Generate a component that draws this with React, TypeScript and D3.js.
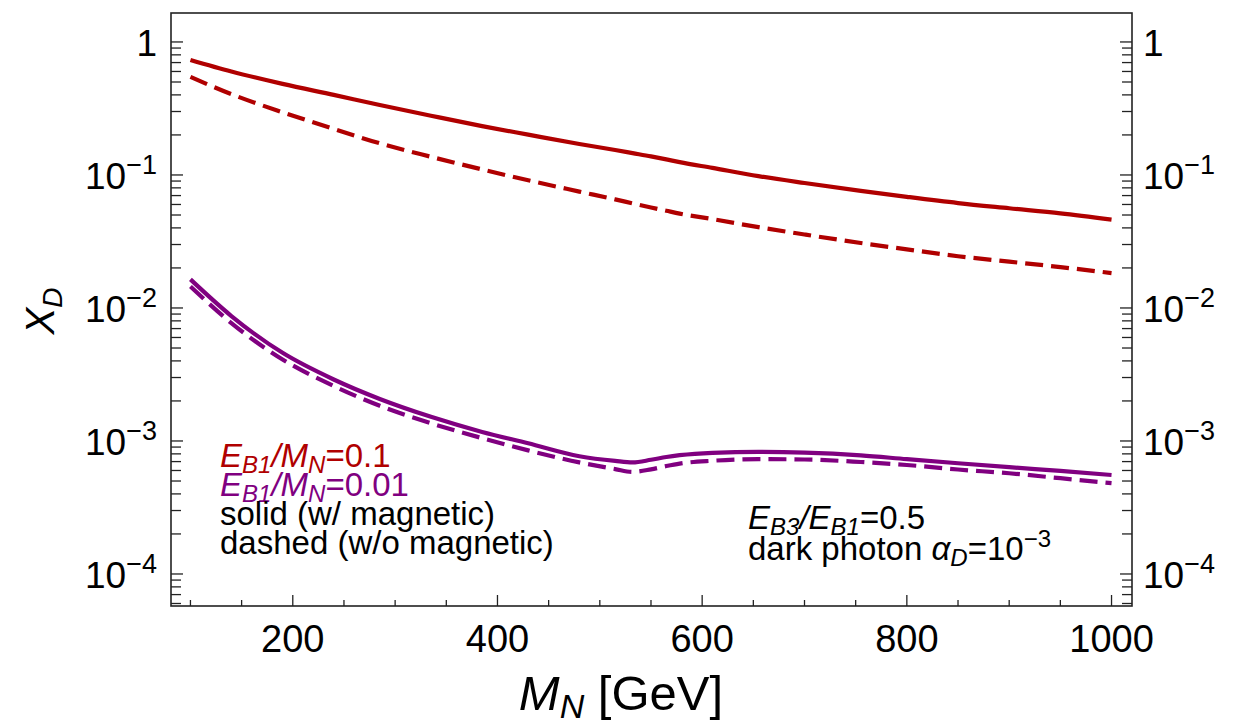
import React from "react";
import * as d3 from "d3";

const MASS = [100, 140, 190, 240, 285, 335, 385, 430, 480, 515, 532, 550, 565, 578, 610, 655, 700, 755, 800, 850, 900, 950, 1000];
const RED_SOLID = [0.733, 0.6, 0.484, 0.4, 0.336, 0.279, 0.233, 0.201, 0.171, 0.154, 0.146, 0.138, 0.131, 0.125, 0.113, 0.098, 0.087, 0.076, 0.0685, 0.0615, 0.0562, 0.0515, 0.0462];
const RED_DASHED = [0.546, 0.405, 0.296, 0.222, 0.173, 0.137, 0.11, 0.0912, 0.075, 0.0655, 0.0612, 0.057, 0.0538, 0.0512, 0.0466, 0.0405, 0.0357, 0.0308, 0.0276, 0.0245, 0.0223, 0.0203, 0.0183];
const PURPLE_SOLID = [0.0164, 0.0087, 0.0046, 0.0029, 0.00207, 0.00152, 0.00117, 0.00096, 0.000768, 0.000708, 0.00069, 0.000722, 0.000758, 0.000782, 0.000815, 0.000828, 0.000818, 0.00078, 0.00073, 0.00068, 0.000635, 0.000595, 0.000555];
const PURPLE_DASHED = [0.0145, 0.0077, 0.0041, 0.00259, 0.00184, 0.00136, 0.00105, 0.00085, 0.00069, 0.000615, 0.000585, 0.000612, 0.000648, 0.000676, 0.00071, 0.00073, 0.000726, 0.000695, 0.00066, 0.00061, 0.000572, 0.000525, 0.000482];

const X_TICKS = [200, 400, 600, 800, 1000];
const Y_TICK_EXP = [0, -1, -2, -3, -4];

const RED = "#B00000";
const PURPLE = "#800080";
const FONT = "'Liberation Sans', Arial, Helvetica, sans-serif";

export default function App() {
  const W = 1250, H = 726;
  const left = 171, right = 1132, top = 13, bottom = 606;
  const x = d3.scaleLinear().domain([81, 1020]).range([left, right]);
  const y = d3.scaleLog().domain([1.651, 5.745e-5]).range([top, bottom]);

  const mk = (vals: number[]) =>
    d3.line<number>()
      .x((_, i) => x(MASS[i]))
      .y((v) => y(v))
      .curve(d3.curveMonotoneX)(vals) || "";

  const series = [
    { vals: RED_SOLID, color: RED, dash: null },
    { vals: RED_DASHED, color: RED, dash: "18,8" },
    { vals: PURPLE_SOLID, color: PURPLE, dash: null },
    { vals: PURPLE_DASHED, color: PURPLE, dash: "18,8" },
  ];

  const yTicks: { v: number; major: boolean }[] = [];
  for (let k = -5; k <= 0; k++) {
    for (let m = 1; m <= 9; m++) {
      const v = m * Math.pow(10, k);
      const py = y(v);
      if (py >= top + 1 && py <= bottom - 1) yTicks.push({ v, major: m === 1 });
    }
  }
  const xMinor = d3.range(100, 1001, 50);

  const tickColor = "#222";
  const labelSize = 37;
  const supSize = 27;

  const yLabel = (e: number, anchorX: number, anchor: "start" | "end") => {
    const py = y(Math.pow(10, e));
    if (e === 0) {
      return (
        <text key={`yl${anchor}${e}`} x={anchorX} y={py + 14} fontSize={labelSize} textAnchor={anchor} fontFamily={FONT}>1</text>
      );
    }
    return (
      <text key={`yl${anchor}${e}`} x={anchorX} y={py + 14} fontSize={labelSize} textAnchor={anchor} fontFamily={FONT}>
        10<tspan fontSize={supSize} dy={-15}>{"\u2212" + Math.abs(e)}</tspan>
      </text>
    );
  };

  return (
    <svg width={W} height={H} style={{ position: "absolute", left: 0, top: 0, background: "#fff" }}>
      <rect x={0} y={0} width={W} height={H} fill="#fff" />
      <g fill="none">
        {series.map((s, i) => (
          <path key={i} d={mk(s.vals)} stroke={s.color} strokeWidth={4.2} strokeDasharray={s.dash || undefined} />
        ))}
      </g>
      <g stroke={tickColor} strokeWidth={1.3}>
        {yTicks.map((t, i) => (
          <g key={i}>
            <line x1={left} x2={left + (t.major ? 12 : 10)} y1={y(t.v)} y2={y(t.v)} />
            <line x1={right} x2={right - (t.major ? 12 : 10)} y1={y(t.v)} y2={y(t.v)} />
          </g>
        ))}
        {xMinor.map((m) => {
          const major = m % 200 === 0;
          return <line key={m} x1={x(m)} x2={x(m)} y1={bottom} y2={bottom - (major ? 11 : 6)} />;
        })}
      </g>
      <rect x={left} y={top} width={right - left} height={bottom - top} fill="none" stroke="#222" strokeWidth={1.6} />
      <g fill="#000">
        {Y_TICK_EXP.map((e) => yLabel(e, 157, "end"))}
        {Y_TICK_EXP.map((e) => yLabel(e, 1143, "start"))}
        {X_TICKS.map((t) => (
          <text key={t} x={x(t)} y={652} fontSize={38} textAnchor="middle" fontFamily={FONT}>{t}</text>
        ))}
      </g>
      <text x={621} y={710} fontSize={49} textAnchor="middle" fontFamily={FONT}>
        <tspan fontStyle="italic">M</tspan>
        <tspan fontStyle="italic" fontSize={34} dy={8}>N</tspan>
        <tspan dy={-8}> [GeV]</tspan>
      </text>
      <text transform="translate(54,311) rotate(-90)" fontSize={40} textAnchor="middle" fontFamily={FONT}>
        <tspan fontStyle="italic">X</tspan>
        <tspan fontStyle="italic" fontSize={28} dy={8}>D</tspan>
      </text>
      <g fontFamily={FONT} fontSize={33}>
        <text x={220} y={467} fill={RED}>
          <tspan fontStyle="italic">E</tspan>
          <tspan fontStyle="italic" fontSize={24} dy={6}>B1</tspan>
          <tspan fontStyle="italic" dy={-6}>/M</tspan>
          <tspan fontStyle="italic" fontSize={24} dy={6}>N</tspan>
          <tspan dy={-6}>=0.1</tspan>
        </text>
        <text x={220} y={496} fill={PURPLE}>
          <tspan fontStyle="italic">E</tspan>
          <tspan fontStyle="italic" fontSize={24} dy={6}>B1</tspan>
          <tspan fontStyle="italic" dy={-6}>/M</tspan>
          <tspan fontStyle="italic" fontSize={24} dy={6}>N</tspan>
          <tspan dy={-6}>=0.01</tspan>
        </text>
        <text x={220} y={525} fill="#000">solid (w/ magnetic)</text>
        <text x={220} y={554} fill="#000">dashed (w/o magnetic)</text>
      </g>
      <g fontFamily={FONT} fontSize={33} fill="#000">
        <text x={748} y={529}>
          <tspan fontStyle="italic">E</tspan>
          <tspan fontStyle="italic" fontSize={24} dy={6}>B3</tspan>
          <tspan fontStyle="italic" dy={-6}>/E</tspan>
          <tspan fontStyle="italic" fontSize={24} dy={6}>B1</tspan>
          <tspan dy={-6}>=0.5</tspan>
        </text>
        <text x={748} y={560}>
          <tspan>dark photon </tspan>
          <tspan fontStyle="italic">α</tspan>
          <tspan fontStyle="italic" fontSize={24} dy={6}>D</tspan>
          <tspan dy={-6}>=10</tspan>
          <tspan fontSize={24} dy={-13}>{"\u22123"}</tspan>
        </text>
      </g>
    </svg>
  );
}
